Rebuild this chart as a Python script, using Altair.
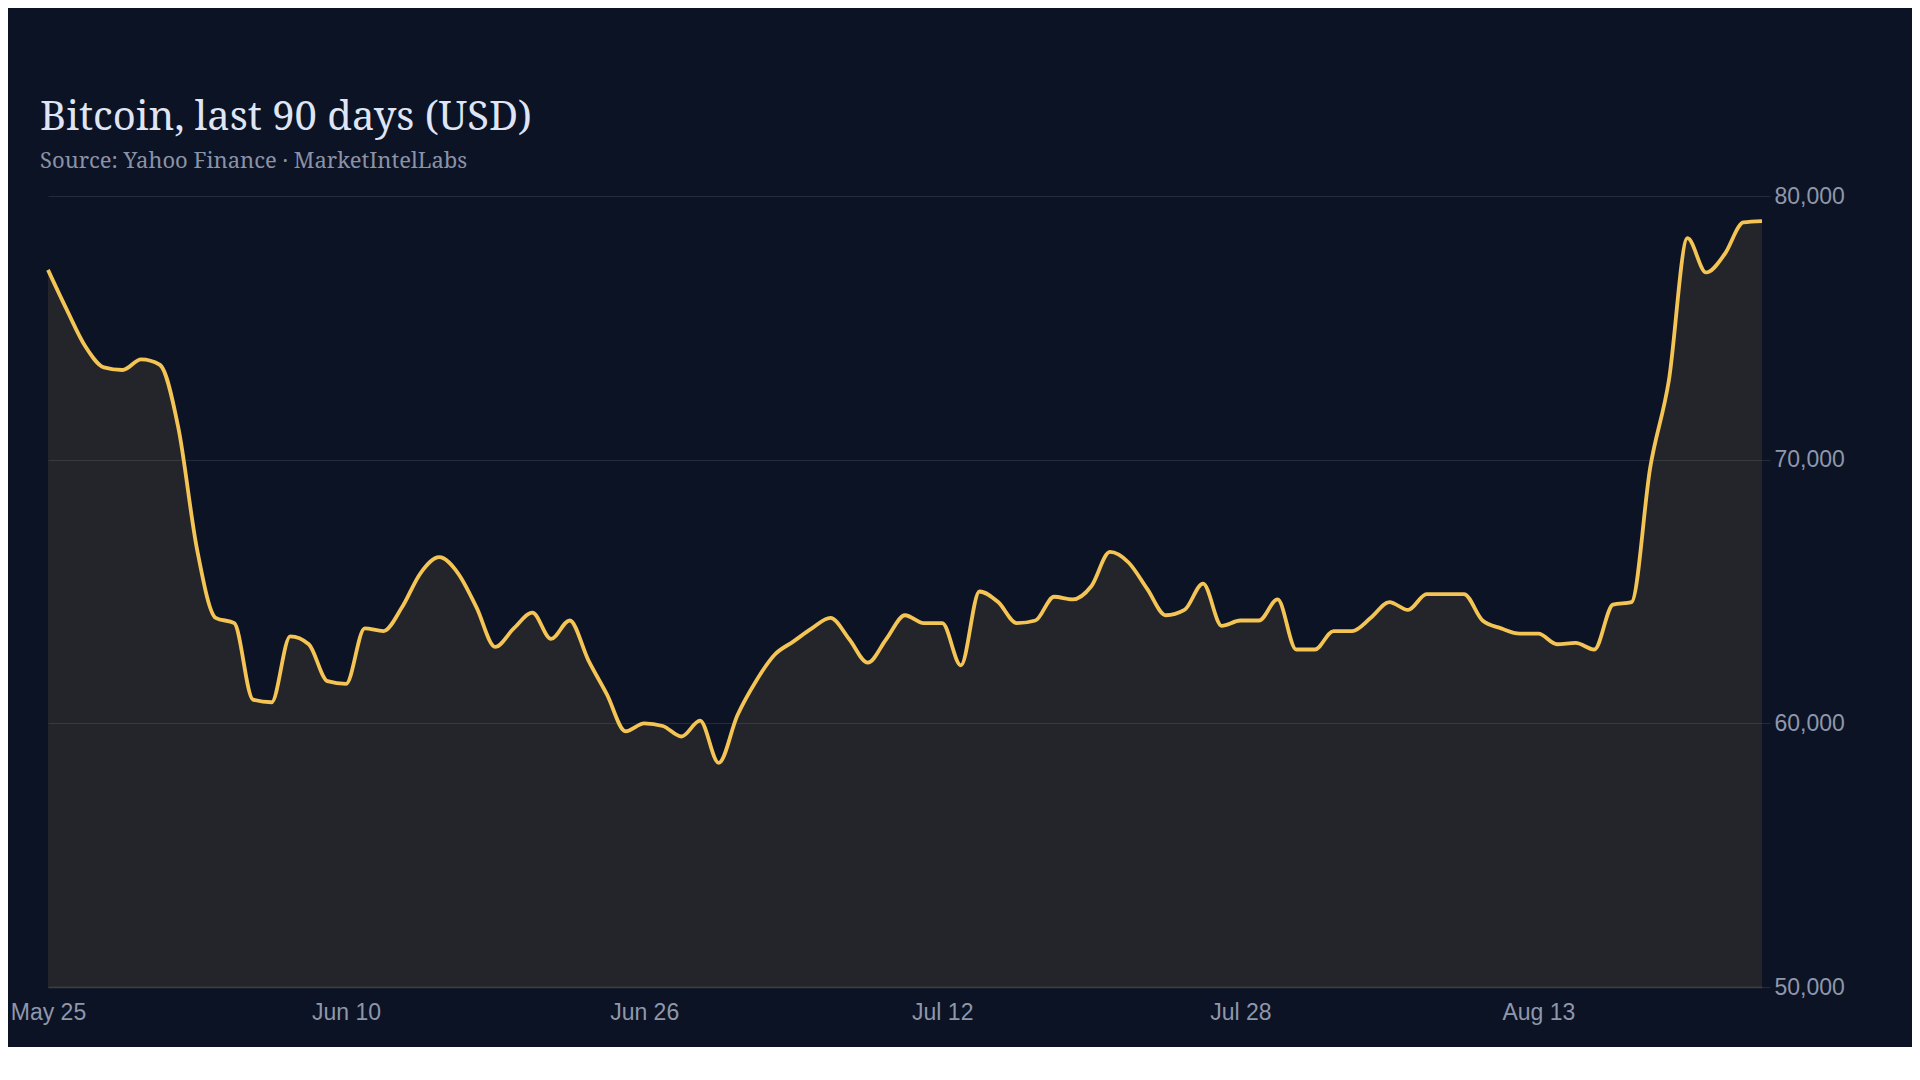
import altair as alt
import pandas as pd

# daily close, USD (May 25 .. Aug 25)
start_date = "2024-05-25"
prices = [
    77200, 75700, 74300, 73500, 73400, 73800, 73600, 71200, 66600, 64000,
    63800, 60900, 60800, 63300, 63000, 61600, 61500, 63600, 63500, 64400,
    65700, 66300, 65700, 64400, 62900, 63600, 64200, 63200, 63900, 62400,
    61100, 59700, 60000, 59900, 59500, 60100, 58500, 60300, 61600, 62600,
    63100, 63600, 64000, 63200, 62300, 63200, 64100, 63800, 63800, 62200,
    65000, 64600, 63800, 63900, 64800, 64700, 65200, 66500, 66100, 65100,
    64100, 64300, 65300, 63700, 63900, 63900, 64700, 62800, 62800, 63500,
    63500, 64000, 64600, 64300, 64900, 64900, 64900, 63900, 63600, 63400,
    63400, 63000, 63050, 62800, 64500, 64600, 69700, 73000, 78400, 77100,
    77800, 79000, 79050,
]
x_ticks = ["2024-05-25", "2024-06-10", "2024-06-26", "2024-07-12", "2024-07-28", "2024-08-13"]
y_ticks = [50000, 60000, 70000, 80000]

dates = pd.date_range(start_date, periods=len(prices), freq="D").strftime("%Y-%m-%d")
df = pd.DataFrame({"date": dates, "price": prices})

tick_values = [
    alt.DateTime(year=int(t[:4]), month=int(t[5:7]), date=int(t[8:]), utc=True)
    for t in x_ticks
]

x = alt.X(
    "date:T",
    scale=alt.Scale(type="utc"),
    axis=alt.Axis(
        values=tick_values, format="%b %-d", title=None, grid=False,
        ticks=False, domain=True, domainColor="#383e4b", domainWidth=1.5,
        labelPadding=14, labelFontSize=23, labelFlush=False,
    ),
)
y = alt.Y(
    "price:Q",
    scale=alt.Scale(domain=[50000, 80000], zero=False, nice=False),
    axis=alt.Axis(
        orient="right", values=y_ticks, format=",d", title=None,
        grid=True, gridColor="#242b39", gridWidth=1,
        ticks=True, tickSize=8, tickColor="#242b39",
        domain=False, labelPadding=4, labelFontSize=23,
    ),
)

line_color = "#f4c454"

area = alt.Chart(df).mark_area(color=line_color, opacity=0.1, interpolate="monotone").encode(
    x=x, y=y, y2=alt.Y2(datum=50000)
)
line = alt.Chart(df).mark_line(color=line_color, strokeWidth=3.8, interpolate="monotone").encode(
    x=x, y=y
)

chart = (
    alt.layer(area, line)
    .properties(
        width=1714,
        height=791,
        autosize=alt.AutoSizeParams(type="none"),
        padding={"left": 40, "top": 188, "right": 150, "bottom": 60},
        background="#0c1325",
        title=alt.TitleParams(
            "Bitcoin, last 90 days (USD)",
            subtitle="Source: Yahoo Finance · MarketIntelLabs",
            anchor="start", frame="group", dx=-8, offset=13,
            font="Noto Serif, Liberation Serif, serif", fontSize=40,
            fontWeight="normal", color="#dfe5f4",
            subtitleFont="Noto Serif, Liberation Serif, serif",
            subtitleFontSize=22, subtitleColor="#8a92a6", subtitlePadding=13,
        ),
    )
    .configure_view(stroke=None)
    .configure_axis(labelFont="Liberation Sans", labelColor="#8f97ab")
)

chart.save("out.html", embed_options={"renderer": "svg", "actions": False})
